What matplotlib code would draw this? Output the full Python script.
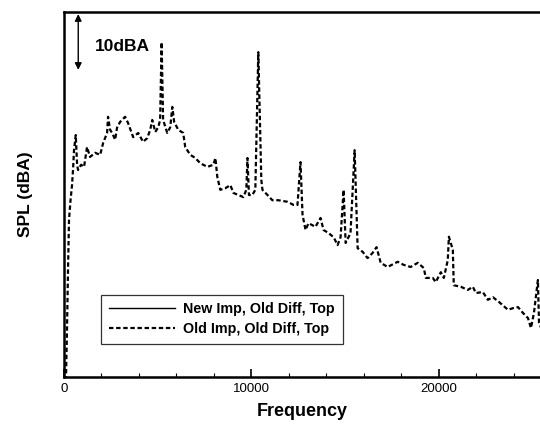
import matplotlib
matplotlib.use("Agg")
import matplotlib.pyplot as plt
from matplotlib.ticker import MultipleLocator

plt.rcParams['font.family'] = ['Liberation Sans', 'DejaVu Sans']

# Frequency (Hz) and SPL (dBA, arbitrary reference)
freq = [0, 107, 160, 214, 267, 348, 428, 481, 535, 626, 700, 750, 910, 1070,
        1230, 1390, 1660, 1930, 2090, 2300, 2350, 2460, 2570, 2730, 2830, 2990,
        3260, 3420, 3690, 3960, 4220, 4440, 4600, 4710, 4870, 5030, 5130, 5210,
        5290, 5510, 5670, 5780, 5880, 6100, 6360, 6470, 6740, 7010, 7270, 7650,
        7970, 8080, 8180, 8340, 8610, 8880, 9040, 9310, 9570, 9730, 9790, 9870,
        10050, 10210, 10370, 10530, 10590, 10860, 11120, 11440, 11930, 12250,
        12460, 12620, 12730, 12890, 13050, 13420, 13690, 13850, 14120, 14390,
        14600, 14760, 14920, 15030, 15290, 15510, 15670, 15940, 16200, 16470,
        16680, 16900, 17270, 17810, 18130, 18500, 18880, 19200, 19310, 19680,
        19840, 20110, 20270, 20480, 20540, 20750, 20800, 21180, 21550, 21820,
        21980, 22350, 22620, 22890, 23210, 23690, 23960, 24230, 24490, 24760,
        24920, 25080, 25290, 25350, 25510]
spl_old = [-2, 0.0, 9.0, 20.5, 30.1, 33.9, 36.8, 39.7, 43.5, 46.4, 40.7, 39.7,
           40.7, 40.3, 44.1, 42.2, 43.0, 42.6, 44.9, 46.8, 49.9, 47.4, 46.8,
           45.5, 47.8, 48.9, 49.9, 48.7, 46.0, 46.8, 45.1, 45.8, 47.4, 49.3,
           47.0, 47.9, 49.3, 64.2, 49.3, 46.8, 47.9, 51.8, 48.9, 47.4, 46.8,
           44.1, 42.6, 42.0, 41.0, 40.3, 40.7, 42.0, 38.4, 35.9, 36.2, 36.8,
           35.3, 34.9, 34.5, 35.9, 42.0, 34.9, 34.9, 35.9, 62.3, 37.8, 35.9,
           34.9, 33.9, 33.9, 33.6, 33.0, 33.0, 41.2, 31.1, 28.2, 29.5, 28.8,
           30.5, 28.2, 27.6, 26.8, 25.3, 26.8, 35.9, 25.7, 27.6, 43.5, 24.7,
           24.0, 22.8, 23.8, 24.9, 21.9, 21.1, 22.1, 21.5, 21.1, 21.9, 20.9,
           19.0, 19.0, 18.2, 20.1, 19.0, 22.4, 26.9, 24.4, 17.6, 17.3, 16.7,
           17.3, 16.1, 16.3, 14.8, 15.3, 14.4, 12.9, 13.2, 13.4, 12.3, 11.3,
           9.4, 12.3, 18.6, 10.4, 9.0]
# The solid series is hidden beneath the dashed one in the picture
freq_new = []
spl_new = []

labels = ["New Imp, Old Diff, Top", "Old Imp, Old Diff, Top"]

fig = plt.figure(figsize=(5.40, 4.24), dpi=100)
ax = fig.add_axes([64/540, 1 - 377/424, 1 - 64/540 + 0.002, (377 - 12)/424])

ax.plot(freq_new, spl_new, color='black', lw=1.0, ls='-', label=labels[0])
ax.plot(freq, spl_old, color='black', lw=1.6, ls=(0, (2.0, 1.2)), label=labels[1])

ax.set_xlim(0, 25460)
ax.set_ylim(0, 70)
ax.xaxis.set_major_locator(MultipleLocator(10000))
ax.xaxis.set_minor_locator(MultipleLocator(2000))
ax.set_yticks([])
ax.tick_params(axis='x', which='major', direction='in', length=6, width=1.2,
               labelsize=9.5, pad=4)
ax.tick_params(axis='x', which='minor', direction='in', length=3, width=0.8)
for s in ['left', 'bottom', 'top']:
    ax.spines[s].set_linewidth(1.8)
ax.spines['right'].set_visible(False)

ax.set_xlabel("Frequency", fontsize=13, fontweight='bold', labelpad=6)
ax.set_ylabel("SPL (dBA)", fontsize=12.5, fontweight='bold', labelpad=22)

# 10 dBA scale arrow
ax.annotate("", xy=(760, 69.6), xytext=(760, 58.9),
            arrowprops=dict(arrowstyle='<|-|>', color='black', lw=1.0,
                            mutation_scale=10, shrinkA=0, shrinkB=0))
ax.text(1650, 63.4, "10dBA", fontsize=12.5, fontweight='bold', va='center', ha='left')

leg = ax.legend(loc='lower left', bbox_to_anchor=(37/476, 33/365), frameon=True,
                fancybox=False, edgecolor='black', prop={'weight': 'bold', 'size': 10.3},
                handlelength=4.6, borderpad=0.55, labelspacing=0.4, handletextpad=0.6,
                borderaxespad=0)
leg.get_frame().set_linewidth(0.9)

fig.savefig("out.png", dpi=100)
